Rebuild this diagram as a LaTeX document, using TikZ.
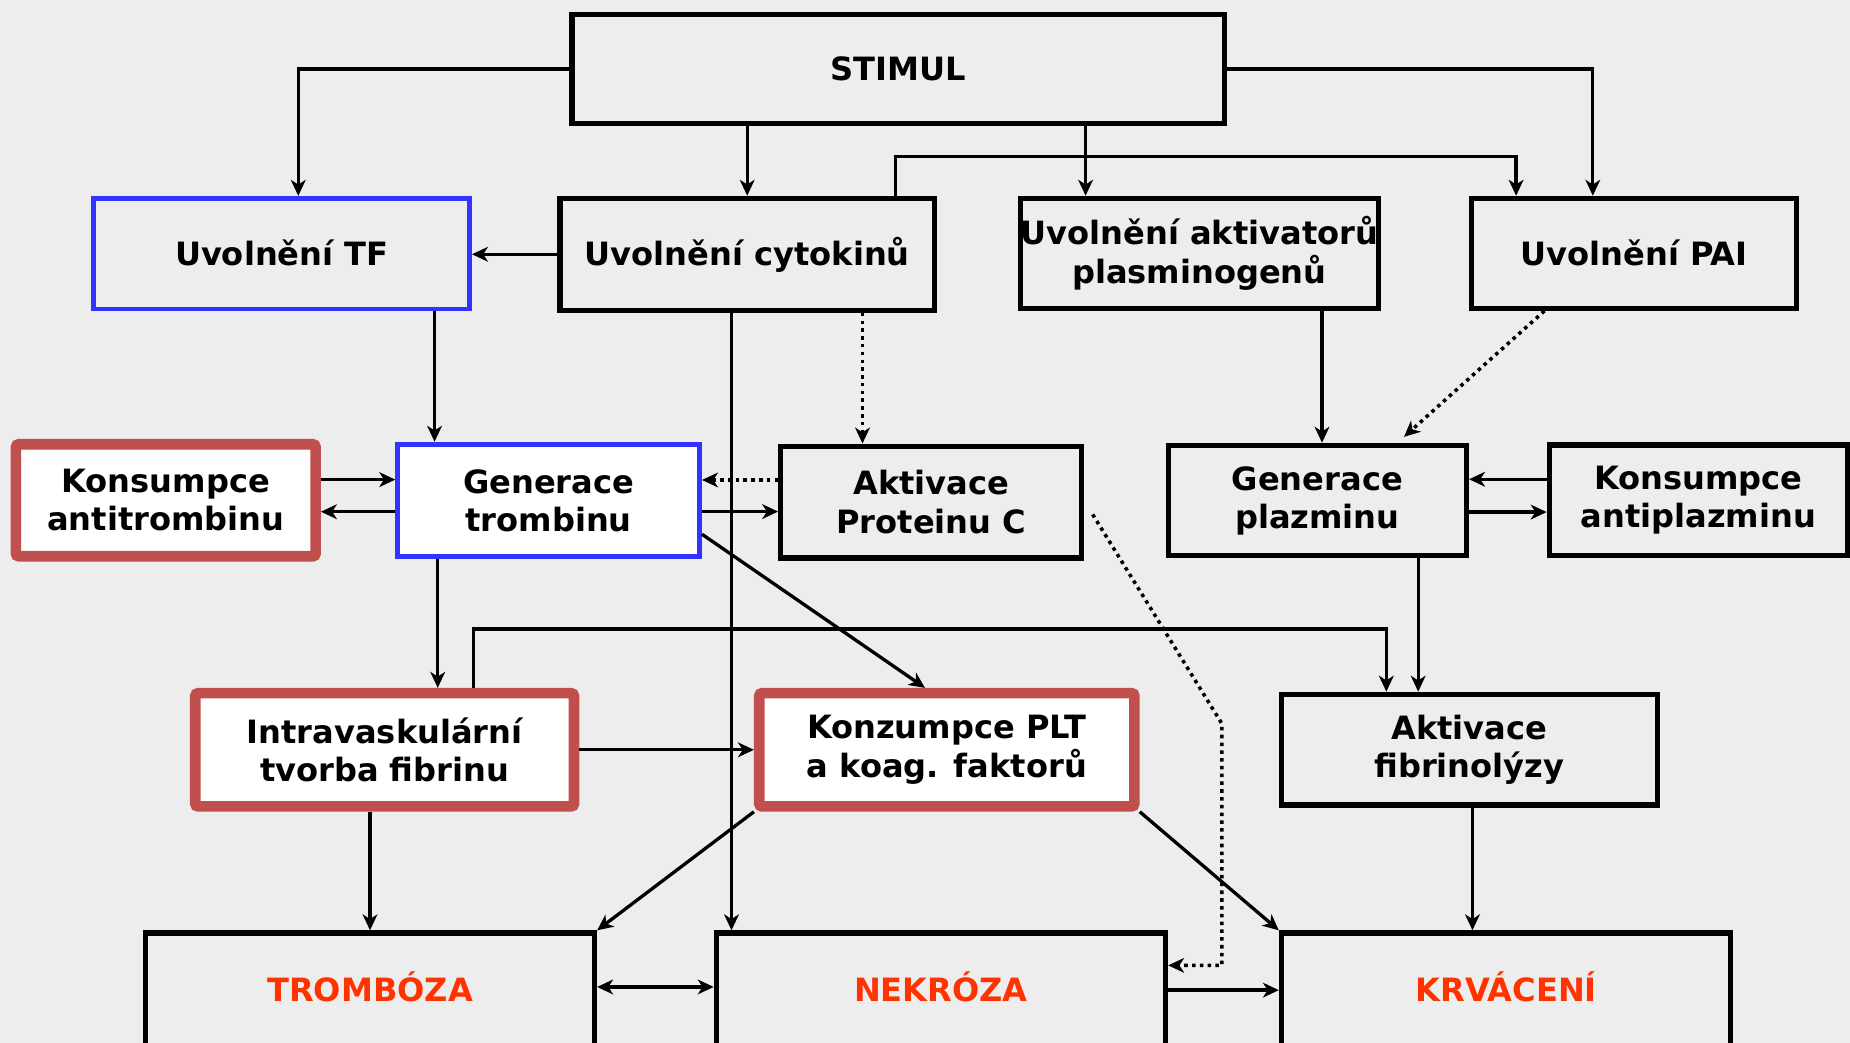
\documentclass[tikz,border=0pt]{standalone}
\usepackage{fontspec}
\setmainfont{DejaVu Sans}
\usetikzlibrary{arrows.meta}
\definecolor{bgc}{RGB}{237,237,237}
\definecolor{boxred}{RGB}{192,80,77}
\definecolor{boxblue}{RGB}{51,51,255}
\definecolor{alertc}{RGB}{255,51,0}
\newcommand{\lblfont}{\fontsize{27.2}{32.5}\selectfont\bfseries}
\begin{document}
\begin{tikzpicture}[x=1pt,y=-1pt,
  every node/.style={font=\lblfont, align=center, inner sep=0pt},
  blk/.style={draw=black, line width=4.4pt, fill=bgc},
  blu/.style={draw=boxblue, line width=4.2pt},
  redb/.style={draw=boxred, line width=9pt, fill=white, rounded corners=2.5pt},
  one/.style={text height=19.8pt, text depth=0pt},
  tip/.tip={Stealth[length=13.5pt,width=12.5pt,inset=4pt]},
  conn/.style={line width=2.8pt, -tip},
  dconn/.style={line width=3pt, -tip, dash pattern=on 3pt off 3.6pt},
  both/.style={line width=2.8pt, tip-tip}
]
\useasboundingbox (0,0) rectangle (1568,884);
\fill[bgc] (0,0) rectangle (1568,884);

% top row
\node[blk, one, minimum width=553, minimum height=92] (stim) at (761.3,58.6) {STIMUL};
\node[blu, one, fill=bgc, minimum width=318.3, minimum height=93.8] (tf) at (238.8,215) {Uvolnění TF};
\node[blk, one, minimum width=317.2, minimum height=94.8] (cyt) at (633.3,215.5) {Uvolnění cytokinů};
\node[blk, minimum width=300.8, minimum height=93.2] (akt) at (1016.5,214.7) {Uvolnění aktivatorů\\plasminogenů};
\node[blk, one, minimum width=275.8, minimum height=93.2] (pai) at (1385,214.7) {Uvolnění PAI};

% second row
\node[redb, minimum width=254, minimum height=95] (kat) at (140.5,424) {Konsumpce\\antitrombinu};
\node[blu, fill=white, minimum width=255.8, minimum height=95.4] (gt) at (465,424.2) {Generace\\trombinu};
\node[blk, minimum width=255.2, minimum height=94.8] (apc) at (789.3,425.5) {Aktivace\\Proteinu C};
\node[blk, minimum width=252.8, minimum height=93.7] (gpl) at (1116.5,424.3) {Generace\\plazminu};
\node[blk, minimum width=252.8, minimum height=93.8] (kap) at (1439.5,424) {Konsumpce\\antiplazminu};

% third row
\node[redb, minimum width=321, minimum height=96] (ivf) at (326,635.5) {Intravaskulární\\tvorba fibrinu};
\node[redb, minimum width=318, minimum height=96] (kpl) at (802.5,635.5) {Konzumpce PLT\\a koag. faktorů};
\node[blk, minimum width=318.4, minimum height=93.9] (afib) at (1245.3,635.4) {Aktivace\\fibrinolýzy};

% bottom row
\node[blk, one, anchor=north, text=alertc, minimum width=380.3, minimum height=97] (trom) at (313.75,788.5) {TROMBÓZA};
\node[blk, one, anchor=north, text=alertc, minimum width=380.8, minimum height=97] (nek) at (797.5,788.5) {NEKRÓZA};
\node[blk, one, anchor=north, text=alertc, minimum width=380.8, minimum height=97] (krv) at (1276.5,788.5) {KRVÁCENÍ};

% connectors
\draw[conn] (stim.west) -| ([xshift=14]tf.north);
\draw[conn] (stim.south -| cyt.north) -- (cyt.north);
\draw[conn] ([xshift=-96.4]akt.north |- stim.south) -- ([xshift=-96.4]akt.north);
\draw[conn] (stim.east) -| ([xshift=-35]pai.north);
\draw[conn] ([xshift=125.7]cyt.north) -- ++(0,-33) -| ([xshift=-100]pai.north);
\draw[conn] (cyt.west) -- (cyt.west -| tf.east);
\draw[conn] ([xshift=129.5]tf.south) -- ([xshift=129.5]tf.south |- gt.north);
\draw[conn] ([xshift=-13.3]cyt.south) -- ([xshift=-13.3]cyt.south |- nek.north);
\draw[dconn] ([xshift=97.7]cyt.south) -- ([xshift=97.7]cyt.south |- apc.north);
\draw[dconn] ([yshift=18.7]apc.west) -- ([yshift=18.7]apc.west -| gt.east);
\draw[conn] ([yshift=-9.4]gt.east) -- ([yshift=-9.4]gt.east -| apc.west);
\draw[conn] ([yshift=17.5]kat.east) -- ([yshift=17.5]kat.east -| gt.west);
\draw[conn] ([yshift=-9.5]gt.west) -- ([yshift=-9.5]gt.west -| kat.east);
\draw[conn] ([xshift=-94]gt.south) -- ([xshift=-94]gt.south |- ivf.north);
\draw[conn] ([yshift=-28.6]gt.east) -- ([xshift=-18.5]kpl.north);
\draw[conn] ([xshift=75.5]ivf.north) -- ++(0,-50) -| ([xshift=-70.3]afib.north);
\draw[conn] ([xshift=85.5]gpl.south) -- ([xshift=85.5]gpl.south |- afib.north);
\draw[conn] ([xshift=104]akt.south) -- ([xshift=104]akt.south |- gpl.north);
\draw[dconn] ([xshift=-76]pai.south) -- ([xshift=73.5,yshift=5]gpl.north);
\draw[conn] ([yshift=17.8]kap.west) -- ([yshift=17.8]kap.west -| gpl.east);
\draw[conn] ([yshift=-9.7]gpl.east) -- ([yshift=-9.7]gpl.east -| kap.west);
\draw[conn] (ivf.east) -- (ivf.east -| kpl.west);
\draw[conn] ([xshift=-12.4]ivf.south) -- ([xshift=-12.4]ivf.south |- trom.north);
\draw[conn] (kpl.south west) -- (trom.north east);
\draw[conn] (kpl.south east) -- (krv.north west);
\draw[conn] ([xshift=2.7]afib.south) -- ([xshift=2.7]afib.south |- krv.north);
\draw[both] ([yshift=2.7]trom.east) -- ([yshift=2.7]trom.east -| nek.west);
\draw[conn] (nek.east) -- (nek.east -| krv.west);
\coordinate (bend) at (1035.6,613.3);
\draw[dconn] ([xshift=7,yshift=-10.5]apc.east) -- (bend) |- ([yshift=21]nek.east);
\end{tikzpicture}
\end{document}
